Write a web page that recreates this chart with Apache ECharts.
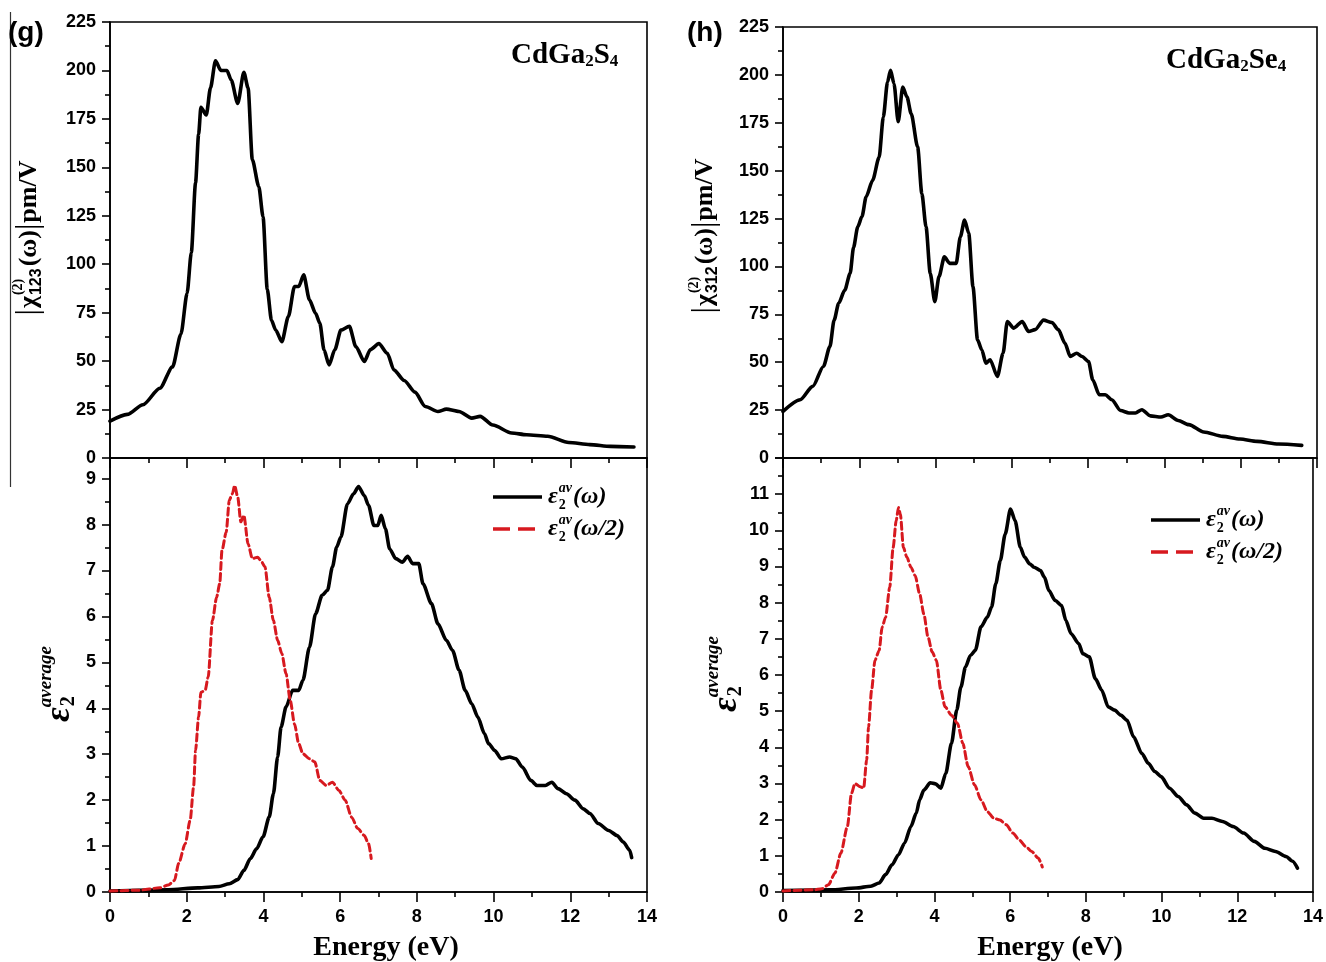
<!DOCTYPE html>
<html><head><meta charset="utf-8">
<script src="https://cdn.jsdelivr.net/npm/echarts@6/dist/echarts.min.js"></script>
<style>html,body{margin:0;padding:0;background:#fff}#c{width:1326px;height:962px}</style>
</head><body><div id="c"></div>
<script>
// ---------- data (energy eV, value) ----------
const chi123_CdGa2S4 = [[0,19],[0.45,22.5],[0.86,27.5],[1.30,36],[1.63,47],[1.85,64],[2.01,85],[2.12,106],[2.23,142],[2.31,167],[2.37,181],[2.51,177],[2.62,191],[2.75,205],[2.89,200],[3.05,200],[3.16,195],[3.33,183],[3.49,199],[3.60,191],[3.71,154],[3.88,140],[3.99,124.5],[4.10,87],[4.21,71],[4.32,66],[4.48,60],[4.65,73],[4.81,88.5],[4.92,88.5],[5.05,94.5],[5.20,81.6],[5.36,74.7],[5.47,69.6],[5.58,55.8],[5.71,48],[5.86,55.8],[6.02,66],[6.24,68],[6.41,57.5],[6.63,49.8],[6.79,56],[7.01,59],[7.23,54],[7.40,45.5],[7.67,40],[7.95,34],[8.22,26.6],[8.55,24],[8.77,25.2],[9.10,24],[9.43,20.6],[9.65,21.5],[9.98,17],[10.47,12.9],[10.86,12],[11.41,11.2],[11.96,8],[12.51,6.9],[13.05,6],[13.66,5.7]];
const chi312_CdGa2Se4 = [[0,24.3],[0.45,30.4],[0.78,37.4],[1.06,47.8],[1.23,58.2],[1.34,72],[1.46,80.8],[1.62,87.7],[1.76,96.4],[1.85,110],[1.96,120.7],[2.07,126],[2.18,136.4],[2.35,145],[2.52,157],[2.63,178],[2.74,196.3],[2.82,202.4],[2.91,195.4],[3.02,175.5],[3.14,193.7],[3.25,188.5],[3.36,179.8],[3.53,162.4],[3.64,138],[3.75,120.7],[3.86,96.4],[3.98,81.6],[4.09,94.7],[4.23,105],[4.37,101.6],[4.54,101.6],[4.65,115.5],[4.76,124.2],[4.87,117.3],[4.98,89.5],[5.10,61.7],[5.21,56.5],[5.32,49.5],[5.43,51.3],[5.62,42.6],[5.77,54.7],[5.88,71.2],[6.05,67.8],[6.27,71.2],[6.44,66],[6.61,67],[6.83,72],[7.05,70.7],[7.22,67],[7.39,60],[7.53,53],[7.70,54.7],[7.84,53],[8.01,50.4],[8.12,40.8],[8.29,33],[8.45,33],[8.62,30.4],[8.85,24.8],[9.07,23.5],[9.24,23.5],[9.41,25.2],[9.63,22],[9.91,21.4],[10.10,22.6],[10.36,19.6],[10.64,17.4],[11.03,13.6],[11.53,11.3],[11.98,9.9],[12.43,8.7],[12.99,7.3],[13.6,6.6]];
const eps2_w_CdGa2S4 = [[0,0.02],[1.52,0.05],[2.29,0.09],[2.84,0.12],[3.11,0.18],[3.33,0.27],[3.49,0.47],[3.66,0.73],[3.82,0.94],[3.99,1.2],[4.15,1.63],[4.26,2.14],[4.37,2.94],[4.46,3.59],[4.59,4.03],[4.76,4.39],[4.92,4.39],[5.03,4.61],[5.20,5.33],[5.36,6.06],[5.53,6.46],[5.67,6.57],[5.80,7.08],[5.91,7.51],[6.02,7.73],[6.19,8.45],[6.35,8.67],[6.48,8.83],[6.63,8.63],[6.74,8.42],[6.88,7.98],[6.98,7.98],[7.07,8.2],[7.18,7.91],[7.29,7.47],[7.45,7.26],[7.62,7.18],[7.76,7.31],[7.89,7.15],[8.05,7.15],[8.16,6.71],[8.38,6.28],[8.55,5.84],[8.77,5.48],[8.93,5.26],[9.10,4.83],[9.26,4.39],[9.43,4.1],[9.59,3.81],[9.76,3.45],[9.87,3.23],[10.03,3.08],[10.20,2.9],[10.42,2.94],[10.58,2.9],[10.75,2.72],[10.97,2.43],[11.13,2.32],[11.35,2.32],[11.52,2.39],[11.68,2.25],[11.9,2.14],[12.12,2.0],[12.34,1.81],[12.51,1.71],[12.73,1.49],[13.0,1.34],[13.22,1.23],[13.38,1.09],[13.55,0.91],[13.6,0.75]];
const eps2_half_CdGa2S4 = [[0,0.02],[0.75,0.04],[1.30,0.09],[1.52,0.15],[1.68,0.25],[1.79,0.62],[1.96,1.05],[2.09,1.56],[2.18,2.29],[2.23,3.08],[2.31,3.81],[2.37,4.35],[2.48,4.39],[2.56,4.68],[2.67,5.91],[2.78,6.42],[2.86,6.71],[2.92,7.44],[3.03,7.84],[3.11,8.53],[3.19,8.67],[3.25,8.85],[3.33,8.6],[3.41,8.06],[3.49,8.2],[3.60,7.58],[3.71,7.26],[3.85,7.29],[3.93,7.22],[4.04,7.08],[4.15,6.42],[4.26,5.91],[4.37,5.48],[4.48,5.19],[4.59,4.75],[4.70,4.17],[4.81,3.66],[4.92,3.23],[5.03,3.01],[5.20,2.9],[5.34,2.83],[5.47,2.43],[5.64,2.32],[5.80,2.39],[5.97,2.21],[6.13,2.0],[6.30,1.63],[6.46,1.38],[6.63,1.23],[6.74,1.05],[6.81,0.73]];
const eps2_w_CdGa2Se4 = [[0,0.04],[1.25,0.06],[1.93,0.11],[2.32,0.16],[2.54,0.25],[2.71,0.48],[2.88,0.75],[3.05,1.03],[3.21,1.35],[3.38,1.81],[3.52,2.18],[3.61,2.55],[3.72,2.82],[3.89,3.02],[4.03,2.99],[4.17,2.87],[4.30,3.28],[4.45,4.11],[4.59,5.03],[4.70,5.67],[4.82,6.22],[4.95,6.54],[5.08,6.68],[5.23,7.33],[5.40,7.6],[5.51,7.88],[5.62,8.52],[5.74,9.16],[5.87,9.9],[6.01,10.59],[6.13,10.27],[6.27,9.53],[6.38,9.26],[6.52,9.07],[6.63,8.98],[6.80,8.89],[6.91,8.7],[7.02,8.34],[7.19,8.06],[7.36,7.92],[7.47,7.51],[7.61,7.14],[7.81,6.87],[7.92,6.59],[8.09,6.5],[8.25,5.9],[8.42,5.58],[8.59,5.12],[8.76,5.03],[8.92,4.89],[9.09,4.75],[9.26,4.29],[9.48,3.83],[9.65,3.56],[9.82,3.33],[9.99,3.19],[10.21,2.87],[10.44,2.64],[10.66,2.41],[10.88,2.18],[11.11,2.04],[11.33,2.04],[11.61,1.95],[11.89,1.81],[12.17,1.63],[12.45,1.4],[12.73,1.21],[13.01,1.12],[13.29,0.98],[13.46,0.85],[13.59,0.66]];
const eps2_half_CdGa2Se4 = [[0,0.03],[0.81,0.06],[1.03,0.09],[1.20,0.2],[1.37,0.52],[1.53,1.08],[1.70,1.81],[1.81,2.73],[1.90,3.0],[2.04,2.91],[2.13,2.87],[2.21,3.65],[2.26,4.57],[2.34,5.58],[2.43,6.41],[2.54,6.68],[2.62,7.33],[2.71,7.6],[2.82,8.43],[2.91,9.53],[2.99,10.27],[3.05,10.63],[3.10,10.45],[3.18,9.53],[3.27,9.26],[3.38,8.98],[3.49,8.75],[3.61,8.24],[3.72,7.69],[3.83,7.05],[3.94,6.64],[4.05,6.41],[4.17,5.58],[4.28,5.12],[4.45,4.89],[4.61,4.66],[4.75,4.11],[4.89,3.47],[5.06,2.96],[5.23,2.55],[5.40,2.22],[5.57,2.04],[5.73,1.99],[5.90,1.86],[6.07,1.63],[6.24,1.44],[6.41,1.26],[6.57,1.12],[6.74,0.94],[6.85,0.69]];

const xTicks = [0,2,4,6,8,10,12,14];
const chiTicks = [0,25,50,75,100,125,150,175,200,225];
const epsTicksS = [0,1,2,3,4,5,6,7,8,9];
const epsTicksSe = [0,1,2,3,4,5,6,7,8,9,10,11];

// ---------- styling ----------
const SERIF = '"Liberation Serif","Times New Roman",serif';
const SANS = '"Liberation Sans",Arial,sans-serif';
const RED = '#d7191f';
const mctx = document.createElement('canvas').getContext('2d');
function tw(t, f){ mctx.font = f; return mctx.measureText(t).width; }
function txt(x, y, t, font){ return {type:'text', x:x, y:y, silent:true, style:{text:t, font:font, fill:'#000', align:'left', verticalAlign:'middle'}}; }

const grids = [
  {left:110, top:22, width:537, height:436},
  {left:110, top:458, width:537, height:434},
  {left:783, top:27, width:534, height:431},
  {left:783, top:458, width:534, height:434}
];

const axisLine = {show:true, onZero:false, lineStyle:{color:'#000', width:1.6}};
const tickStyle = {color:'#000', width:1.6};
const labelStyle = {color:'#000', fontFamily:SANS, fontWeight:'bold', fontSize:18};

function xAx(gi, showLabel){
  return {type:'value', gridIndex:gi, min:0, max:14, interval:2,
    axisLine:axisLine, splitLine:{show:false},
    axisTick:{show:true, inside:false, length:10, lineStyle:tickStyle},
    minorTick:{show:true, splitNumber:2, length:5, lineStyle:tickStyle},
    axisLabel:Object.assign({show:showLabel, margin:16}, labelStyle,
      {customValues: xTicks})};
}
function yAx(gi, max, interval, ticks, minor){
  return {type:'value', gridIndex:gi, min:0, max:max, interval:interval,
    axisLine:axisLine, splitLine:{show:false},
    axisTick:{show:true, inside:false, length:8, lineStyle:tickStyle},
    minorTick:{show:minor, splitNumber:2, length:5, lineStyle:tickStyle},
    axisLabel:Object.assign({margin:14, showMaxLabel: ticks[ticks.length-1]===max}, labelStyle)};
}
function ser(data, gi, dashed){
  return {type:'line', xAxisIndex:gi, yAxisIndex:gi, data:data, showSymbol:false, symbol:'none',
    smooth:0.25, smoothMonotone:'x', animation:false, z:3,
    lineStyle:{color: dashed ? RED : '#000', width: dashed ? 3 : 3.6, type: dashed ? [7,4] : 'solid', cap:'round', join:'round'}};
}

// ---------- rotated labels ----------
function chiLabel(cx, cy, sub){
  const fM = 'bold 26px ' + SERIF, fB = '32px ' + SERIF, fSup = 'bold 14px ' + SERIF, fSub = 'bold 16px ' + SANS;
  let p = 0; const ch = [];
  ch.push(txt(p, 0, '|', fB)); p += tw('|', fB) + 1;
  ch.push(txt(p, 0, 'χ', fM)); p += tw('χ', fM) + 1;
  ch.push(txt(p, -11, '(2)', fSup)); ch.push(txt(p, 8, sub, fSub));
  p += Math.max(tw('(2)', fSup), tw(sub, fSub)) + 2;
  ch.push(txt(p, 0, '(ω)', fM)); p += tw('(ω)', fM);
  ch.push(txt(p, 0, '|', fB)); p += tw('|', fB) + 1;
  ch.push(txt(p, 0, 'pm/V', fM)); p += tw('pm/V', fM);
  return {type:'group', x:cx, y:cy + p/2, rotation:Math.PI/2, children:ch};
}
function epsLabel(cx, yb){
  const fE = 'italic bold 36px ' + SERIF, fS = 'italic bold 19px ' + SERIF, fN = 'bold 20px ' + SERIF;
  const w = tw('ε', fE);
  return {type:'group', x:cx, y:yb, rotation:Math.PI/2, children:[
    txt(0, 0, 'ε', fE), txt(w + 1, 9, '2', fN), txt(w, -14, 'average', fS)]};
}
function legendItem(x0, y, dashed, arg){
  const fE = 'italic bold 24px ' + SERIF, fS = 'italic bold 14px ' + SERIF, fN = 'bold 14px ' + SERIF;
  const out = [{type:'line', silent:true, shape:{x1:x0, y1:y, x2:x0 + 49, y2:y},
    style:{stroke: dashed ? RED : '#000', lineWidth:3.4, lineDash: dashed ? [17,8] : null}}];
  let p = x0 + 55;
  out.push(txt(p, y, 'ε', fE)); p += tw('ε', fE) + 1;
  out.push(txt(p, y - 9, 'av', fS)); out.push(txt(p, y + 8, '2', fN));
  p += Math.max(tw('av', fS), tw('2', fN)) + 1;
  out.push(txt(p, y, arg, fE));
  return out;
}
function title(x, y, parts){
  const fM = 'bold 29px ' + SERIF, fS = 'bold 17px ' + SERIF;
  const out = []; let p = x;
  parts.forEach(function(pt){
    const f = pt[1] ? fS : fM;
    out.push(txt(p, pt[1] ? y + 6 : y, pt[0], f)); p += tw(pt[0], f);
  });
  return out;
}

const graphics = [].concat(
  [{type:'line', silent:true, shape:{x1:10.5, y1:12, x2:10.5, y2:487}, style:{stroke:'#333', lineWidth:1.2}}],
  [txt(8, 33, '(g)', 'bold 28px ' + SANS), txt(687, 33, '(h)', 'bold 28px ' + SANS)],
  title(511, 56, [['CdGa',0],['2',1],['S',0],['4',1]]),
  title(1166, 61, [['CdGa',0],['2',1],['Se',0],['4',1]]),
  [chiLabel(29, 238, '123'), chiLabel(705, 236, '312'), epsLabel(60, 722), epsLabel(727, 712)],
  legendItem(493, 497, false, '(ω)'), legendItem(493, 529, true, '(ω/2)'),
  legendItem(1151, 520, false, '(ω)'), legendItem(1151, 552, true, '(ω/2)'),
  [txt(386, 948, 'Energy (eV)', 'bold 28px ' + SERIF), txt(1050, 948, 'Energy (eV)', 'bold 28px ' + SERIF)]
);
graphics[graphics.length-1].style.align = 'center';
graphics[graphics.length-2].style.align = 'center';

const yAxes = [
  yAx(0, 225, 25, chiTicks, true),
  yAx(1, 9.45, 1, epsTicksS, false),
  yAx(2, 225, 25, chiTicks, true),
  yAx(3, 12, 1, epsTicksSe, true),
  // minor ticks for the bottom-left axis
  {type:'value', gridIndex:1, position:'left', min:0, max:9.45,
   axisLine:{show:false}, splitLine:{show:false}, axisLabel:{show:false},
   axisTick:{show:true, inside:false, length:5, lineStyle:tickStyle,
     customValues: epsTicksS.slice(0, 9).map(function(v){ return v + 0.5; })}}
];

const chart = echarts.init(document.getElementById('c'));
chart.setOption({
  animation:false,
  backgroundColor:'#fff',
  grid: grids.map(function(g){ return Object.assign({show:true, borderColor:'#000', borderWidth:1.6, backgroundColor:'transparent'}, g); }),
  xAxis: [xAx(0, false), xAx(1, true), xAx(2, false), xAx(3, true)],
  yAxis: yAxes,
  series: [
    ser(chi123_CdGa2S4, 0, false),
    ser(eps2_w_CdGa2S4, 1, false),
    ser(eps2_half_CdGa2S4, 1, true),
    ser(chi312_CdGa2Se4, 2, false),
    ser(eps2_w_CdGa2Se4, 3, false),
    ser(eps2_half_CdGa2Se4, 3, true)
  ],
  graphic: graphics
});
</script></body></html>
